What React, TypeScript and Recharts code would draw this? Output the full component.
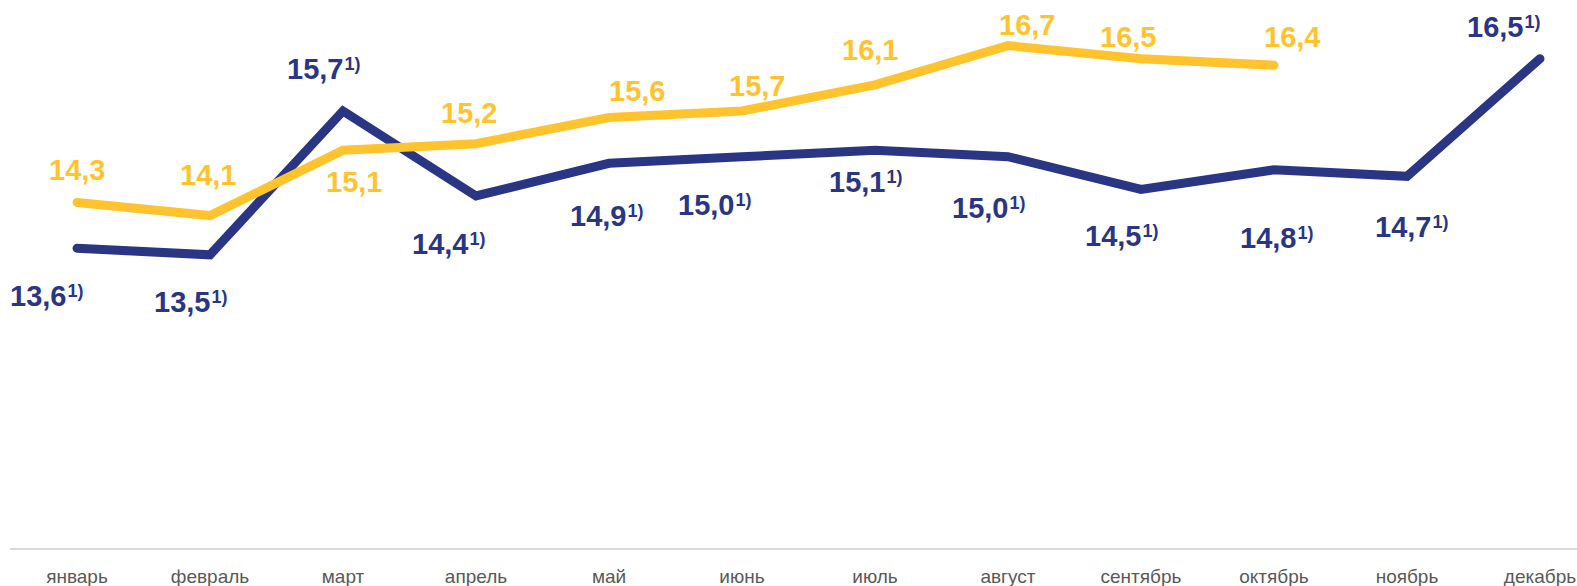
import React from 'react';
import { LineChart, Line, XAxis, YAxis, LabelList } from 'recharts';

const months = ['январь', 'февраль', 'март', 'апрель', 'май', 'июнь', 'июль', 'август', 'сентябрь', 'октябрь', 'ноябрь', 'декабрь'];
const prevYear = [13.6, 13.5, 15.7, 14.4, 14.9, 15.0, 15.1, 15.0, 14.5, 14.8, 14.7, 16.5];
const currYear = [14.3, 14.1, 15.1, 15.2, 15.6, 15.7, 16.1, 16.7, 16.5, 16.4, null, null];

// label placement relative to the point: [dx to text start, dy to baseline]
const prevOffsets = [[-67, 58], [-56, 57], [-56, -32], [-64, 58], [-39, 63], [-64, 58], [-46, 42], [-56, 61], [-56, 57], [-34, 78], [-32, 61], [-73, -22]];
const currOffsets = [[-28, -23], [-30, -31], [-17, 42], [-35, -21], [0, -17], [-13, -15], [-33, -25], [-9, -11], [-41, -12], [-10, -18]];

const NAVY = '#2A3583';
const YELLOW = '#FFC32E';
const FONT = '"Liberation Sans", Arial, sans-serif';

const data = months.map((m, i) => ({ month: m, prev: prevYear[i], curr: currYear[i] }));

const fmt = (v: number) => v.toFixed(1).replace('.', ',');

const makeLabel = (offsets: number[][], color: string, note: boolean) => (props: any) => {
  const { x, y, value, index } = props;
  if (value == null || x == null || y == null) return null;
  const off = offsets[index] || [0, 0];
  return (
    <text x={x + off[0]} y={y + off[1]} fill={color} fontFamily={FONT} fontWeight="bold" fontSize={29} textAnchor="start">
      <tspan>{fmt(value)}</tspan>
      {note && <tspan dx={1} dy={-9} fontSize={18}>1)</tspan>}
    </text>
  );
};

export default function App() {
  return (
    <div style={{ position: 'absolute', left: 0, top: 0, width: 1577, height: 586, overflow: 'hidden', background: '#fff' }}>
      <LineChart width={1607} height={586} data={data} margin={{ top: 26, right: 0, bottom: 7, left: 10 }}>
        <XAxis
          dataKey="month"
          interval={0}
          height={30}
          tickLine={false}
          tickMargin={15}
          padding={{ left: 67, right: 67 }}
          axisLine={{ stroke: '#d9d9d9', strokeWidth: 2 }}
          tick={{ fill: '#595959', fontSize: 19, fontFamily: FONT }}
        />
        <YAxis hide domain={[9, 17]} />
        <Line
          dataKey="prev"
          stroke={NAVY}
          strokeWidth={9}
          strokeLinecap="round"
          dot={false}
          activeDot={false}
          isAnimationActive={false}
        >
          <LabelList dataKey="prev" content={makeLabel(prevOffsets, NAVY, true)} />
        </Line>
        <Line
          dataKey="curr"
          stroke={YELLOW}
          strokeWidth={9}
          strokeLinecap="round"
          dot={false}
          activeDot={false}
          isAnimationActive={false}
        >
          <LabelList dataKey="curr" content={makeLabel(currOffsets, YELLOW, false)} />
        </Line>
      </LineChart>
    </div>
  );
}
